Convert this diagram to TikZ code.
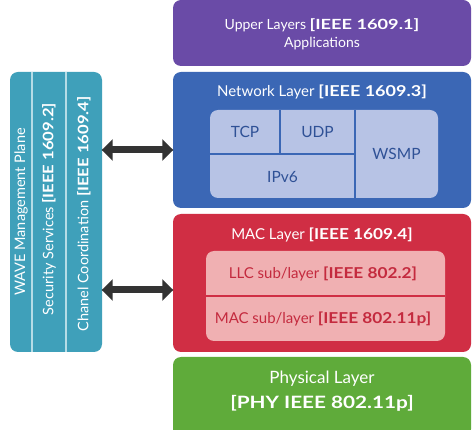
\documentclass[tikz,border=0pt]{standalone}
\usepackage{fontspec}
\usepackage{graphicx}
\setmainfont{Lato}
\usetikzlibrary{arrows.meta}
\definecolor{purp}{HTML}{6A4BA7}
\definecolor{netblue}{HTML}{3B67B5}
\definecolor{netlight}{HTML}{B7C3E5}
\definecolor{nettext}{HTML}{2F5196}
\definecolor{macred}{HTML}{D02E44}
\definecolor{maclight}{HTML}{F0B0B2}
\definecolor{mactext}{HTML}{C42A3E}
\definecolor{phygreen}{HTML}{5FAB3A}
\definecolor{teal}{HTML}{3FA0BA}
\definecolor{tealline}{HTML}{B5DCE6}
\definecolor{arrowdark}{HTML}{333333}
\newcommand\wb[2][1.15]{\scalebox{#1}[1]{\textbf{#2}}}
\begin{document}
\begin{tikzpicture}[x=1pt,y=-1pt,
  layerbox/.style={rounded corners=8pt, minimum width=298pt, inner sep=0pt, draw=none, text=white, align=center},
  titletext/.style={text=white, font=\fontsize{15}{18}\selectfont, inner sep=0pt},
  celltext/.style={text=nettext, font=\fontsize{15.5}{18}\selectfont, inner sep=0pt},
  redtext/.style={text=mactext, font=\fontsize{15}{18}\selectfont, inner sep=0pt},
  sidetext/.style={text=white, font=\fontsize{14.5}{16}\selectfont, inner sep=0pt, rotate=90},
  bigarrow/.style={draw=arrowdark, line width=7pt, {Triangle[length=11pt,width=21pt]}-{Triangle[length=11pt,width=21pt]}, shorten <=-0.5pt, shorten >=-0.5pt}
]
\useasboundingbox (0,0) rectangle (474,430);
\fill[white] (0,0) rectangle (474,430);

% Upper layers
\node[layerbox, fill=purp, minimum height=66pt] (upper) at (322,33) {};
\node[text=white, align=center, inner sep=0pt, font=\fontsize{14}{18}\selectfont] (uppertext) at (322,34.5)
  {Upper Layers \wb[1.3]{[IEEE 1609.1]}\\Applications};

% Network layer
\node[layerbox, fill=netblue, minimum height=136pt] (net) at (322,140) {};
\node[titletext] (nettitle) at (322,92) {Network Layer \wb[1.2]{[IEEE 1609.3]}};
\fill[netlight, rounded corners=8pt] (210,110) rectangle (438,198);
\draw[netblue, line width=1.5pt] (280,110) -- (280,154);
\draw[netblue, line width=1.5pt] (355,110) -- (355,198);
\draw[netblue, line width=1.5pt] (210,154) -- (355,154);
\node[celltext] (tcp) at (245,132) {TCP};
\node[celltext] (udp) at (317.5,132) {UDP};
\node[celltext] (ipv6) at (282.5,177) {IPv6};
\node[celltext] (wsmp) at (396.5,154) {WSMP};

% MAC layer
\node[layerbox, fill=macred, minimum height=138pt] (mac) at (322,283) {};
\node[titletext] (mactitle) at (322,235) {MAC Layer \wb{[IEEE 1609.4]}};
\fill[maclight, rounded corners=8pt] (206,251) rectangle (445,341);
\draw[macred, line width=1.2pt] (206,296) -- (445,296);
\node[redtext] (llc) at (323,273.5) {LLC sub/layer \wb{[IEEE 802.2]}};
\node[redtext] (macsub) at (323,318.5) {MAC sub/layer \wb{[IEEE 802.11p]}};

% Physical layer
\node[layerbox, fill=phygreen, minimum height=80pt] (phy) at (322,397) {};
\node[text=white, align=center, inner sep=0pt, font=\fontsize{17}{25}\selectfont] (phytext) at (322,391.5)
  {Physical Layer\\\wb[1.22]{[PHY IEEE 802.11p]}};

% WAVE management plane
\node[rounded corners=8pt, fill=teal, minimum width=92pt, minimum height=280pt, inner sep=0pt] (plane) at (56,212) {};
\draw[tealline, line width=1.2pt] (32,72) -- (32,352);
\draw[tealline, line width=1.2pt] (66,72) -- (66,352);
\node[sidetext] (wave) at (21,212) {WAVE Management Plane};
\node[sidetext] (sec) at (49,209) {Security Services \wb{[IEEE 1609.2]}};
\node[sidetext] (chan) at (84,214) {Chanel Coordination \wb{[IEEE 1609.4]}};

% Arrows
\coordinate (ya) at (0,150);
\coordinate (yb) at (0,290);
\draw[bigarrow] (plane.east |- ya) -- (net.west |- ya);
\draw[bigarrow] (plane.east |- yb) -- (mac.west |- yb);
\end{tikzpicture}
\end{document}
